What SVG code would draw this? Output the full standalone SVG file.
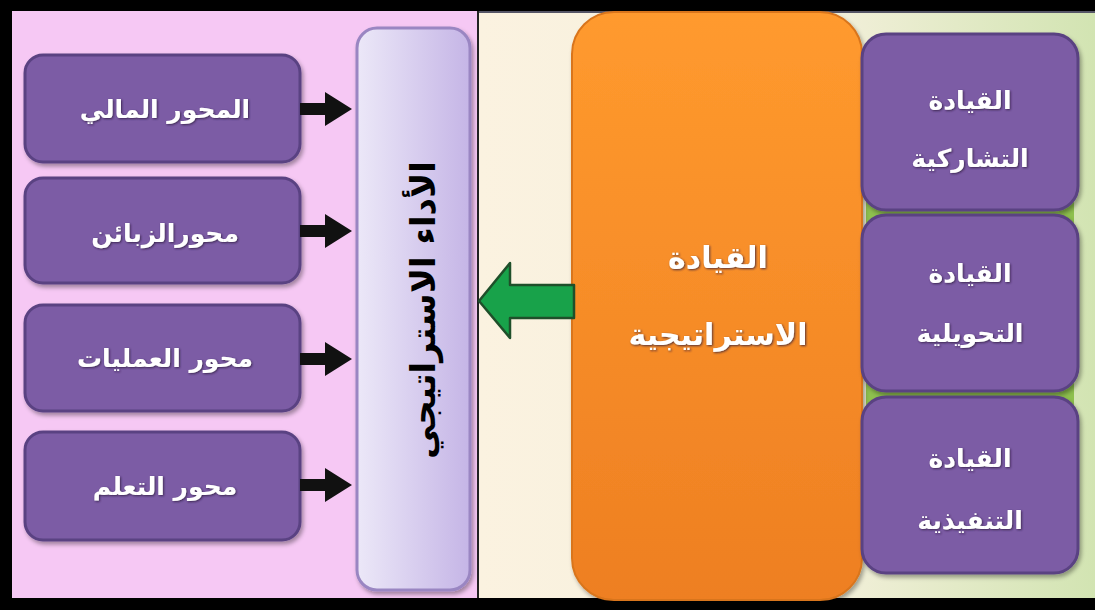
<svg xmlns="http://www.w3.org/2000/svg" width="1095" height="610" viewBox="0 0 1095 610">
<defs>
<style>
.pbox{fill:#7B5CA5;stroke:#5A4282;stroke-width:3}
.wt{fill:#ffffff;font-family:"DejaVu Sans",sans-serif;font-weight:bold;text-anchor:middle;direction:rtl}
.lt{font-size:25px}
.rt{font-size:25px}
.ot{font-size:30px}
.arr{fill:#111111}
</style>
<linearGradient id="lav" x1="0" y1="0" x2="1" y2="0">
<stop offset="0" stop-color="#ECE8F8"/><stop offset="1" stop-color="#C5B5E6"/>
</linearGradient>
<linearGradient id="org" x1="0" y1="0" x2="0" y2="1">
<stop offset="0" stop-color="#FF9A2E"/><stop offset="1" stop-color="#EE7F22"/>
</linearGradient>
<linearGradient id="bgr" x1="0" y1="0" x2="1" y2="0">
<stop offset="0" stop-color="#FBF2E0"/><stop offset="0.55" stop-color="#F4F0DC"/><stop offset="1" stop-color="#D2E4B2"/>
</linearGradient>
<filter id="sh" x="-10%" y="-10%" width="130%" height="130%">
<feDropShadow dx="2" dy="3" stdDeviation="2" flood-color="#000" flood-opacity="0.35"/>
</filter>
<filter id="ts" x="-10%" y="-20%" width="120%" height="140%">
<feDropShadow dx="1" dy="1" stdDeviation="1" flood-color="#2a1a3a" flood-opacity="0.8"/>
</filter>
</defs>
<rect x="0" y="0" width="1095" height="610" fill="#000"/>
<rect x="12" y="11" width="466" height="587" fill="#F6C8F4"/>
<rect x="479" y="11" width="616" height="587" fill="url(#bgr)"/>
<line x1="478" y1="11" x2="478" y2="598" stroke="#222" stroke-width="2"/>
<line x1="479" y1="12" x2="1095" y2="12" stroke="#556" stroke-width="2"/>

<g id="node-performance">
<rect x="357" y="28" width="113" height="562" rx="20" fill="url(#lav)" stroke="#9A86C2" stroke-width="3" filter="url(#sh)"/>
<text class="wt" transform="translate(425,310) rotate(-90)" font-size="34" style="fill:#000" dominant-baseline="middle">الأداء الاستراتيجي</text>
</g>

<g id="node-financial">
<rect class="pbox" x="25" y="55" width="275" height="107" rx="18" filter="url(#sh)"/>
<text class="wt lt" x="165" y="118" filter="url(#ts)">المحور المالي</text>
</g>
<g id="node-customers">
<rect class="pbox" x="25" y="178" width="275" height="105" rx="18" filter="url(#sh)"/>
<text class="wt lt" x="165" y="242" filter="url(#ts)">محورالزبائن</text>
</g>
<g id="node-operations">
<rect class="pbox" x="25" y="305" width="275" height="106" rx="18" filter="url(#sh)"/>
<text class="wt lt" x="165" y="367" filter="url(#ts)">محور العمليات</text>
</g>
<g id="node-learning">
<rect class="pbox" x="25" y="432" width="275" height="108" rx="18" filter="url(#sh)"/>
<text class="wt lt" x="165" y="495" filter="url(#ts)">محور التعلم</text>
</g>

<g id="node-green-bg">
<rect x="866" y="45" width="208" height="520" fill="#8EC04E"/>
</g>

<g id="node-strategic">
<rect x="572" y="12" width="290" height="588" rx="42" fill="url(#org)" stroke="#D9751C" stroke-width="2" filter="url(#sh)"/>
<text class="wt ot" x="718" y="268" filter="url(#ts)">القيادة</text>
<text class="wt ot" x="718" y="345" filter="url(#ts)">الاستراتيجية</text>
</g>

<g id="node-participative">
<rect class="pbox" x="862" y="34" width="216" height="176" rx="24" filter="url(#sh)"/>
<text class="wt rt" x="970" y="109" filter="url(#ts)">القيادة</text>
<text class="wt rt" x="970" y="167" filter="url(#ts)">التشاركية</text>
</g>
<g id="node-transformational">
<rect class="pbox" x="862" y="215" width="216" height="176" rx="24" filter="url(#sh)"/>
<text class="wt rt" x="970" y="282" filter="url(#ts)">القيادة</text>
<text class="wt rt" x="970" y="342" filter="url(#ts)">التحويلية</text>
</g>
<g id="node-executive">
<rect class="pbox" x="862" y="397" width="216" height="176" rx="24" filter="url(#sh)"/>
<text class="wt rt" x="970" y="467" filter="url(#ts)">القيادة</text>
<text class="wt rt" x="970" y="529" filter="url(#ts)">التنفيذية</text>
</g>

<g id="connectors">
<polygon class="arr" points="300,103 325,103 325,92 352,109 325,126 325,115 300,115"/>
<polygon class="arr" points="300,225 325,225 325,214 352,231 325,248 325,237 300,237"/>
<polygon class="arr" points="300,353 325,353 325,342 352,359 325,376 325,365 300,365"/>
<polygon class="arr" points="300,479 325,479 325,468 352,485 325,502 325,491 300,491"/>
<polygon points="479,301 510,263 510,285 574,285 574,318 510,318 510,338" fill="#18A24A" stroke="#1F4F2A" stroke-width="2.5" stroke-linejoin="round"/>
</g>
</svg>
